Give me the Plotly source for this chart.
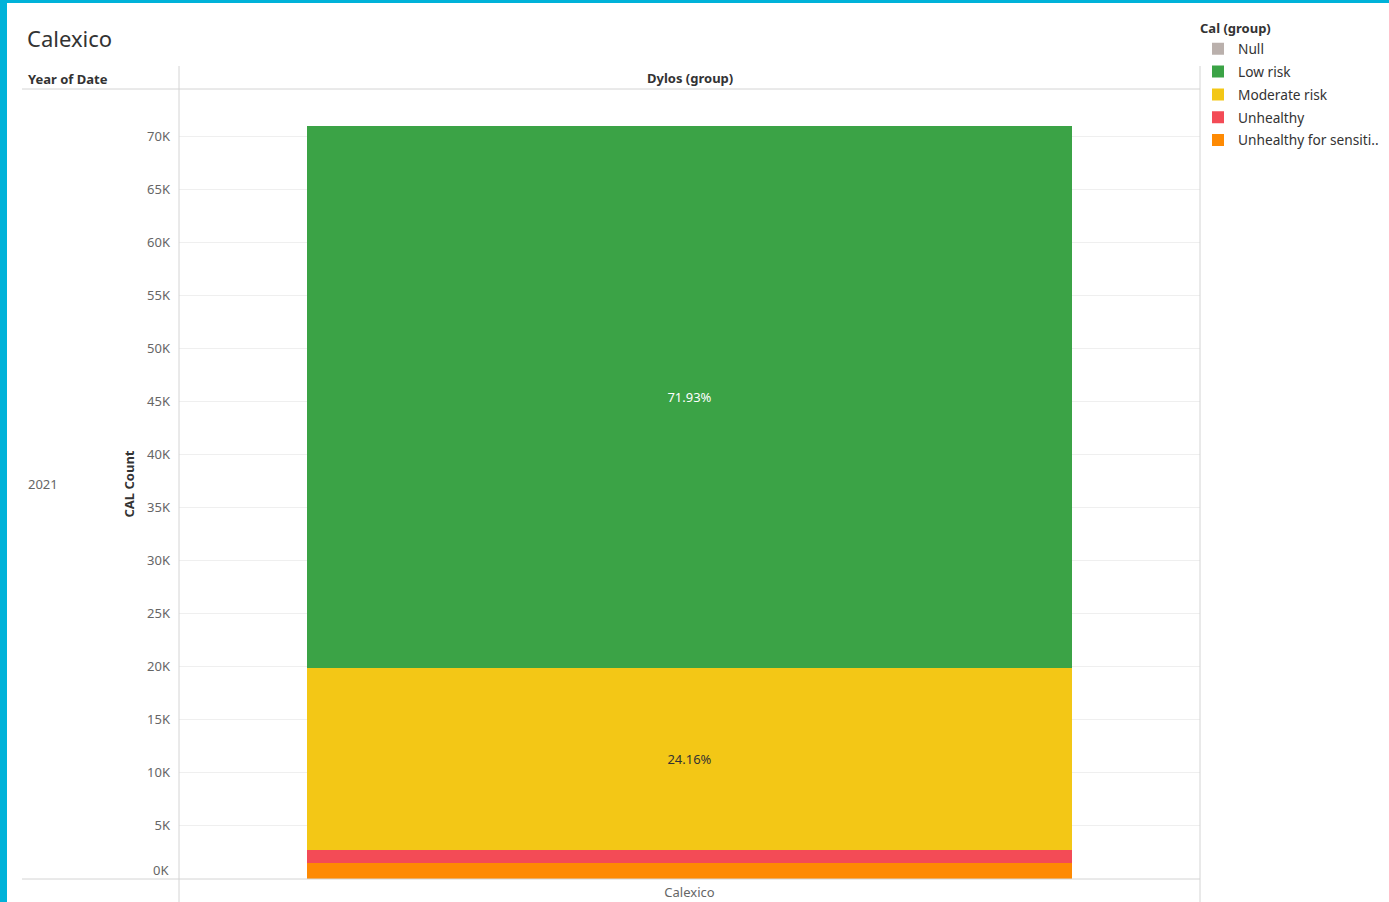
import plotly.graph_objects as go

# ---- data ----
categories = ["Calexico"]
groups = ["Null", "Low risk", "Moderate risk", "Unhealthy", "Unhealthy for sensiti.."]
null_vals = [0]
low_vals = [51000]
moderate_vals = [17130]
unhealthy_vals = [1250]
usg_vals = [1520]
y_tick_vals = [0, 5000, 10000, 15000, 20000, 25000, 30000, 35000, 40000, 45000, 50000, 55000, 60000, 65000, 70000]
y_tick_text = ["0K", "5K", "10K", "15K", "20K", "25K", "30K", "35K", "40K", "45K", "50K", "55K", "60K", "65K", "70K"]
year_label = "2021"

colors = {
    "Null": "#BAB0AC",
    "Low risk": "#3BA346",
    "Moderate risk": "#F3C716",
    "Unhealthy": "#F34B56",
    "Unhealthy for sensiti..": "#FE8A03",
}

W, H = 1389, 902
L, R, T, B = 179, 1389 - 1200, 89, 902 - 879
PW, PH = W - L - R, H - T - B


def px_x(x):
    return (x - L) / PW


def px_y(y):
    return (H - B - y) / PH


FONT = "Noto Sans"
total = [a + b + c + d + e for a, b, c, d, e in zip(null_vals, low_vals, moderate_vals, unhealthy_vals, usg_vals)]

fig = go.Figure()
# stacking order bottom -> top
stack = [
    ("Unhealthy for sensiti..", usg_vals, None, None),
    ("Unhealthy", unhealthy_vals, None, None),
    ("Moderate risk", moderate_vals, True, "#333333"),
    ("Low risk", low_vals, True, "#FFFFFF"),
    ("Null", null_vals, None, None),
]
legend_rank = {g: i for i, g in enumerate(groups)}
for name, vals, show_text, tcol in stack:
    text = [f"{v / t * 100:.2f}%" for v, t in zip(vals, total)] if show_text else None
    fig.add_trace(go.Bar(
        x=categories, y=vals, name=name,
        marker=dict(color=colors[name], line=dict(width=0)),
        width=0.75,
        text=text,
        textposition="inside" if show_text else "none",
        insidetextanchor="middle",
        textfont=dict(color=tcol or "#333", size=13, family=FONT),
        legendrank=legend_rank[name],
        legendgroup=name,
        hoverinfo="x+y+name",
    ))

shapes = []
line_col = "#D4D4D4"
# blue border
shapes.append(dict(type="rect", xref="paper", yref="paper", x0=px_x(0), x1=px_x(7), y0=px_y(902), y1=px_y(0),
                   fillcolor="#00B2D9", line=dict(width=0), layer="above"))
shapes.append(dict(type="rect", xref="paper", yref="paper", x0=px_x(0), x1=px_x(1389), y0=px_y(3), y1=px_y(0),
                   fillcolor="#00B2D9", line=dict(width=0), layer="above"))
# header line
shapes.append(dict(type="line", xref="paper", yref="paper", x0=px_x(22), x1=px_x(1200), y0=px_y(89), y1=px_y(89),
                   line=dict(color=line_col, width=1)))
# bottom line
shapes.append(dict(type="line", xref="paper", yref="paper", x0=px_x(22), x1=px_x(1200), y0=px_y(879), y1=px_y(879),
                   line=dict(color=line_col, width=1)))
# vertical divider
shapes.append(dict(type="line", xref="paper", yref="paper", x0=px_x(179), x1=px_x(179), y0=px_y(66), y1=px_y(902),
                   line=dict(color=line_col, width=1)))
# right border
shapes.append(dict(type="line", xref="paper", yref="paper", x0=px_x(1200), x1=px_x(1200), y0=px_y(66), y1=px_y(902),
                   line=dict(color=line_col, width=1)))

annotations = [
    dict(text="Calexico", xref="paper", yref="paper", x=px_x(25), y=px_y(38), xanchor="left", yanchor="middle",
         showarrow=False, font=dict(size=22, color="#333333", family=FONT)),
    dict(text="<b>Year of Date</b>", xref="paper", yref="paper", x=px_x(26), y=px_y(79), xanchor="left",
         yanchor="middle", showarrow=False, font=dict(size=13, color="#333333", family=FONT)),
    dict(text="<b>Dylos (group)</b>", xref="paper", yref="paper", x=0.5, y=px_y(78), xanchor="center",
         yanchor="middle", showarrow=False, font=dict(size=13, color="#333333", family=FONT)),
    dict(text=year_label, xref="paper", yref="paper", x=px_x(26), y=px_y(484), xanchor="left", yanchor="middle",
         showarrow=False, font=dict(size=13, color="#666666", family=FONT)),
    dict(text=y_tick_text[0], xref="paper", yref="y", x=px_x(171), y=y_tick_vals[0], xanchor="right",
         yanchor="middle", yshift=9, showarrow=False, font=dict(size=13, color="#666666", family=FONT)),
]

fig.update_layout(
    width=W, height=H,
    margin=dict(l=L, r=R, t=T, b=B, pad=0, autoexpand=False),
    paper_bgcolor="white", plot_bgcolor="white",
    barmode="stack", bargap=0.25,
    showlegend=True,
    legend=dict(
        title=dict(text="<b>Cal (group)</b>", font=dict(size=13, color="#333333", family=FONT)),
        xref="container", yref="container",
        x=1198 / W, y=1 - 16.5 / H, xanchor="left", yanchor="top",
        font=dict(size=13.7, color="#333333", family=FONT),
        traceorder="grouped", tracegroupgap=2, itemwidth=30,
        bgcolor="rgba(0,0,0,0)",
    ),
    xaxis=dict(
        range=[-0.5, 0.5], showgrid=False, zeroline=False, showline=False, ticks="",
        tickfont=dict(size=13, color="#666666", family=FONT), ticklabelstandoff=4, automargin=False,
    ),
    yaxis=dict(
        range=[0, 74430], tickvals=y_tick_vals[1:], ticktext=y_tick_text[1:],
        showgrid=True, gridcolor="#EFEFEF", gridwidth=1, zeroline=False, showline=False,
        ticks="", ticklabelstandoff=8, automargin=False,
        tickfont=dict(size=13, color="#666666", family=FONT),
        title=dict(text="<b>CAL Count</b>", font=dict(size=13, color="#333333", family=FONT), standoff=9),
    ),
    shapes=shapes,
    annotations=annotations,
)

post = (
    "var gd=document.getElementById('{plot_id}');"
    "var de=document.documentElement;de.style.margin='0';de.style.padding='0';"
    "de.style.overflow='hidden';de.style.height='902px';de.style.width='1389px';"
    "var b=document.body;b.style.margin='0';b.style.padding='0';b.style.overflow='hidden';"
    "b.style.height='902px';b.style.width='1389px';"
    "gd.parentElement.style.height='902px';gd.parentElement.style.overflow='hidden';"
)

fig.write_html("out.html", config={"displayModeBar": False}, post_script=post)
